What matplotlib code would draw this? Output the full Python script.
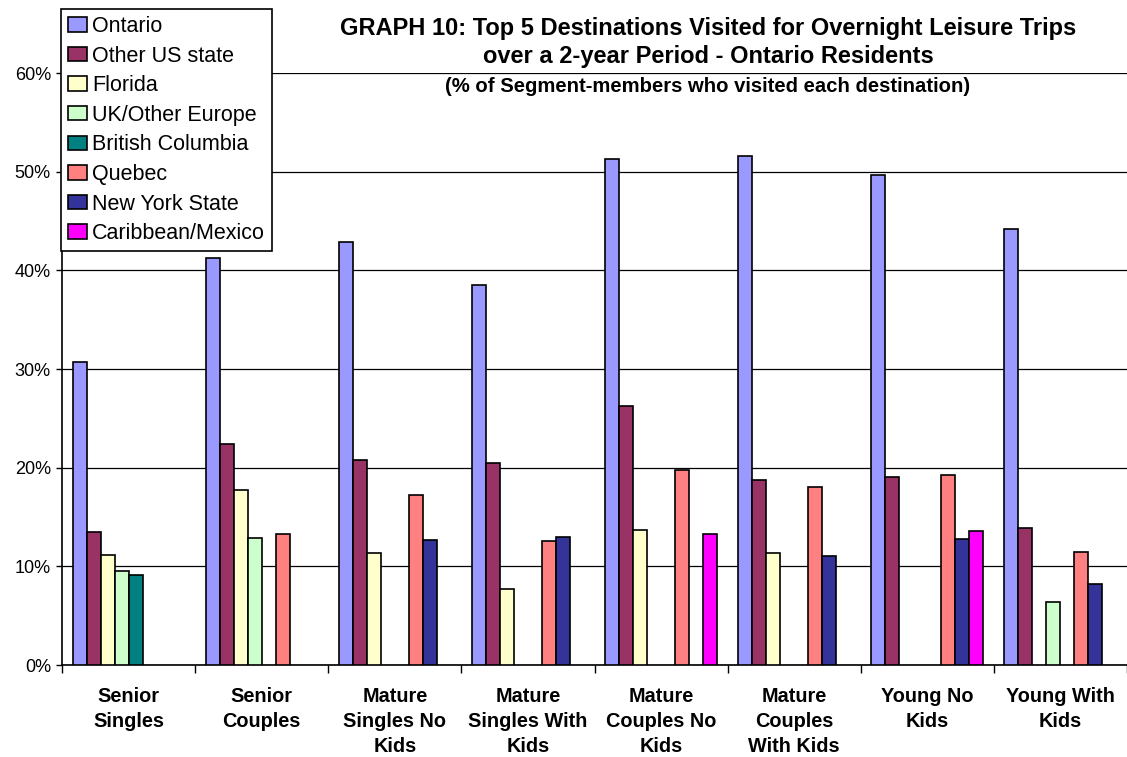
import numpy as np
import matplotlib
matplotlib.use("Agg")
import matplotlib.pyplot as plt
from matplotlib.patches import Rectangle
from matplotlib.legend_handler import HandlerPatch

# Segment categories along the x axis
categories = [
    "Senior\nSingles", "Senior\nCouples", "Mature\nSingles No\nKids",
    "Mature\nSingles With\nKids", "Mature\nCouples No\nKids",
    "Mature\nCouples\nWith Kids", "Young No\nKids", "Young With\nKids",
]

# Share of segment members visiting each destination (%); nan = not in top 5
ontario      = [30.7, 41.2, 42.9, 38.5, 51.3, 51.6, 49.7, 44.2]
other_us     = [13.5, 22.4, 20.8, 20.5, 26.3, 18.8, 19.1, 13.9]
florida      = [11.1, 17.7, 11.4,  7.7, 13.7, 11.4, np.nan, np.nan]
uk_europe    = [ 9.5, 12.9, np.nan, np.nan, np.nan, np.nan, np.nan, 6.4]
british_col  = [ 9.1, np.nan, np.nan, np.nan, np.nan, np.nan, np.nan, np.nan]
quebec       = [np.nan, 13.3, 17.2, 12.6, 19.8, 18.0, 19.3, 11.5]
new_york     = [np.nan, np.nan, 12.7, 13.0, np.nan, 11.0, 12.8, 8.2]
caribbean    = [np.nan, np.nan, np.nan, np.nan, 13.3, np.nan, 13.6, np.nan]

series_names = ["Ontario", "Other US state", "Florida", "UK/Other Europe",
                "British Columbia", "Quebec", "New York State", "Caribbean/Mexico"]
series_values = [ontario, other_us, florida, uk_europe, british_col,
                 quebec, new_york, caribbean]
colors = ["#9999FF", "#993366", "#FFFFCC", "#CCFFCC", "#008080",
          "#FF8080", "#333399", "#FF00FF"]

y_ticks = [0, 10, 20, 30, 40, 50, 60]
y_tick_labels = ["0%", "10%", "20%", "30%", "40%", "50%", "60%"]

plt.rcParams["font.family"] = ["Liberation Sans", "DejaVu Sans"]

W, H = 1127, 757
fig = plt.figure(figsize=(W / 100, H / 100), dpi=100)
ax = fig.add_axes([62 / W, 1 - 665 / H, (W - 62) / W, (665 - 73) / H])

n = len(series_names)
bar_w = 1 / 9.5
x = np.arange(len(categories))
for i, (name, vals, c) in enumerate(zip(series_names, series_values, colors)):
    ax.bar(x + (i - (n - 1) / 2) * bar_w, vals, width=bar_w, color=c,
           edgecolor="black", linewidth=1.2, label=name, zorder=3)

ax.set_xlim(-0.5, len(categories) - 0.5)
ax.set_ylim(0, 60)
ax.set_yticks(y_ticks)
ax.set_yticklabels(y_tick_labels, fontsize=13)
ax.yaxis.grid(True, color="black", linewidth=0.9, zorder=0)
ax.set_axisbelow(True)

# group boundaries as major ticks, category names on minor ticks
ax.set_xticks(np.arange(len(categories) + 1) - 0.5)
ax.set_xticklabels([])
ax.set_xticks(x, minor=True)
ax.set_xticklabels(categories, minor=True, fontsize=14.3, fontweight="bold",
                   linespacing=1.42)
ax.tick_params(axis="x", which="major", direction="out", length=6, width=1)
ax.tick_params(axis="x", which="minor", length=0, pad=15.5)
ax.tick_params(axis="y", direction="out", length=4, width=1, pad=4)

for s in ["top", "right"]:
    ax.spines[s].set_visible(False)
for s in ["left", "bottom"]:
    ax.spines[s].set_linewidth(1.2)


def square_key(legend, orig_handle, xdescent, ydescent, width, height, fontsize):
    # small square swatch, right-aligned inside the handle slot
    side = height
    return Rectangle((-xdescent + width - side, -ydescent), side, side)


leg = fig.legend(loc="upper left", bbox_to_anchor=(61 / W, 1 - 9 / H),
                 bbox_transform=fig.transFigure, borderaxespad=0,
                 fontsize=15.5, frameon=True, fancybox=False, shadow=False,
                 handlelength=0.88, handleheight=0.65, handletextpad=0.25,
                 labelspacing=0.40, borderpad=0.32, edgecolor="black",
                 framealpha=1,
                 handler_map={Rectangle: HandlerPatch(patch_func=square_key)})
leg.get_frame().set_linewidth(1.2)
leg.set_zorder(10)
for p in leg.get_patches():
    p.set_linewidth(1.2)

cx = 708 / W
fig.text(cx, 1 - 28 / H, "GRAPH 10: Top 5 Destinations Visited for Overnight Leisure Trips",
         ha="center", va="center", fontsize=17, fontweight="bold")
fig.text(cx, 1 - 56 / H, "over a 2-year Period - Ontario Residents",
         ha="center", va="center", fontsize=17, fontweight="bold")
fig.text(cx, 1 - 86 / H, "(% of Segment-members who visited each destination)",
         ha="center", va="center", fontsize=14.6, fontweight="bold")

fig.savefig("out.png", dpi=100)
